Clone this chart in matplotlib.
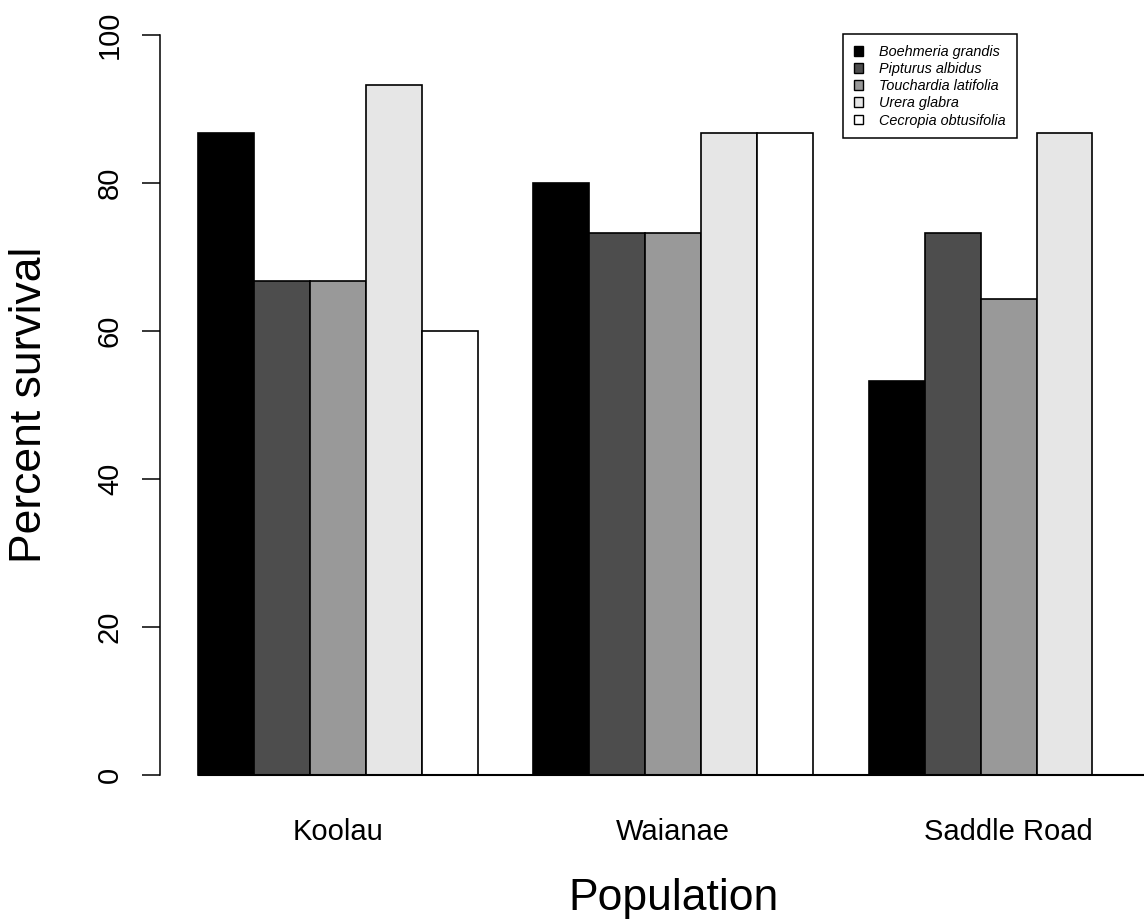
import numpy as np
import matplotlib
matplotlib.use('Agg')
import matplotlib.pyplot as plt
from matplotlib.patches import Patch

plt.rcParams['font.family'] = ['Liberation Sans', 'DejaVu Sans']

populations = ['Koolau', 'Waianae', 'Saddle Road']
species = ['Boehmeria grandis', 'Pipturus albidus', 'Touchardia latifolia',
           'Urera glabra', 'Cecropia obtusifolia']
fills = ['#000000', '#4d4d4d', '#999999', '#e6e6e6', '#ffffff']

# percent survival, one list per species (Koolau, Waianae, Saddle Road)
boehmeria = [86.7, 80.0, 53.3]
pipturus = [66.7, 73.3, 73.3]
touchardia = [66.7, 73.3, 64.3]
urera = [93.3, 86.7, 86.7]
cecropia = [60.0, 86.7, 0.0]
survival = [boehmeria, pipturus, touchardia, urera, cecropia]

W, H = 1144, 922
fig = plt.figure(figsize=(W / 100, H / 100), dpi=100)
ax = fig.add_axes([160 / W, (H - 775) / H, (W - 160) / W, 740 / H])

# barplot layout: one empty slot before each group of five bars
nsp = len(species)
for g in range(len(populations)):
    for s in range(nsp):
        left = g * (nsp + 1) + 1 + s
        ax.bar(left, survival[s][g], width=1, align='edge', color=fills[s],
               edgecolor='black', linewidth=1.2, clip_on=False)

xmax = 0.32 + (W - 160) / 55.9
ax.set_xlim(0.32, xmax)
ax.set_ylim(0, 100)
ax.hlines(0, 1, xmax, color='black', linewidth=1.5, clip_on=False)

centers = [g * (nsp + 1) + 1 + nsp / 2 for g in range(len(populations))]
ax.set_xticks(centers)
ax.set_xticklabels(populations, fontsize=21)
ax.tick_params(axis='x', length=0, pad=31)

ax.set_yticks(np.arange(0, 101, 20))
ax.tick_params(axis='y', length=13, width=1.1, pad=13, labelsize=21,
               labelrotation=90)
for t in ax.get_yticklabels():
    t.set_va('center')

for side in ['top', 'right', 'bottom']:
    ax.spines[side].set_visible(False)
ax.spines['left'].set_linewidth(1.1)

fig.text(673 / W, 1 - 910 / H, 'Population', fontsize=32, ha='center',
         va='baseline')
fig.text(30 / W, 1 - 405 / H, 'Percent survival', fontsize=32, ha='center',
         va='center', rotation=90)

handles = [Patch(facecolor=c, edgecolor='black', linewidth=1.0) for c in fills]
leg = ax.legend(handles, species, loc='upper left',
                bbox_to_anchor=(843 / W, 1 - 34 / H),
                bbox_transform=fig.transFigure, borderaxespad=0,
                prop={'size': 10.4, 'style': 'italic'},
                handlelength=0.65, handleheight=0.65, handletextpad=1.1,
                labelspacing=0.22, borderpad=0.75, fancybox=False,
                framealpha=1, edgecolor='black')
leg.get_frame().set_linewidth(1.1)

fig.savefig('out.png', dpi=100)
